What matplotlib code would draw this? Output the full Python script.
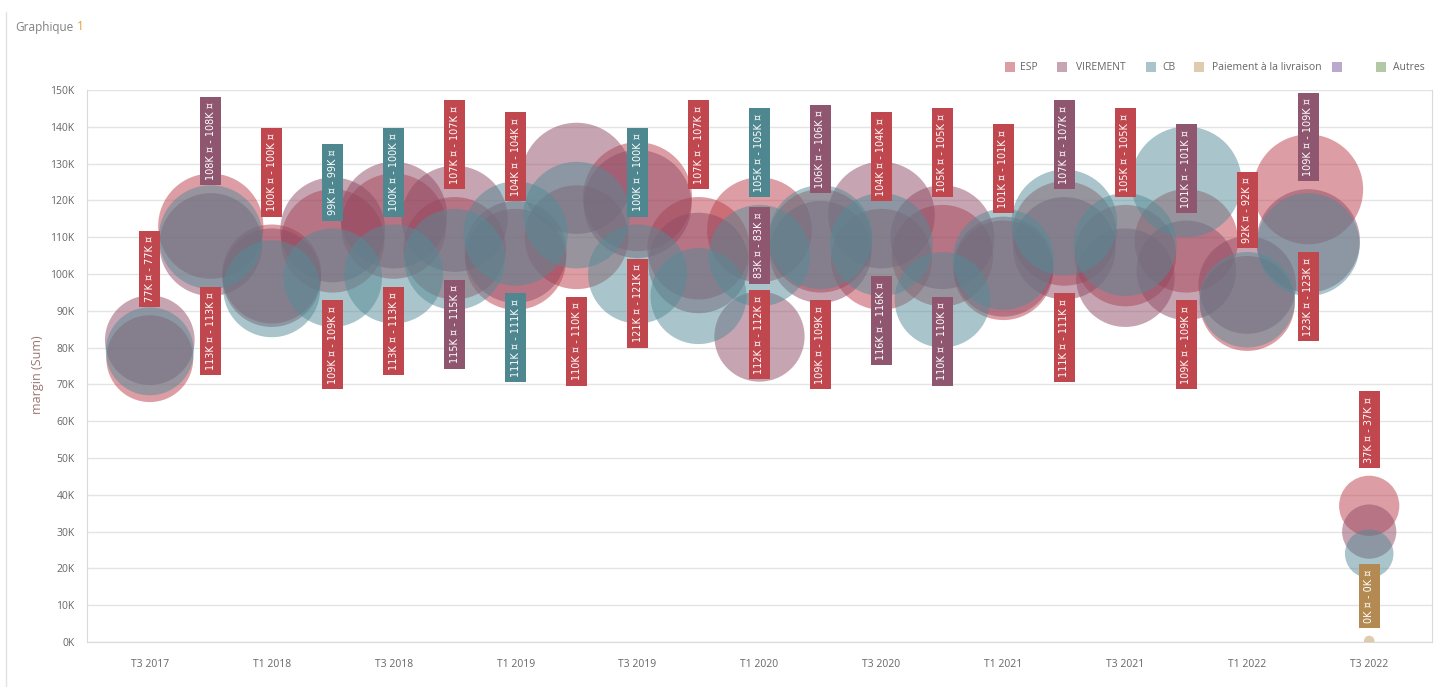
import numpy as np
import matplotlib
matplotlib.use("Agg")
import matplotlib.pyplot as plt
from matplotlib.patches import Rectangle
from matplotlib.lines import Line2D

plt.rcParams['font.family'] = ['Open Sans', 'DejaVu Sans']

# quarters on the x axis
quarters = ['T3 2017', 'T4 2017', 'T1 2018', 'T2 2018', 'T3 2018', 'T4 2018',
            'T1 2019', 'T2 2019', 'T3 2019', 'T4 2019', 'T1 2020', 'T2 2020',
            'T3 2020', 'T4 2020', 'T1 2021', 'T2 2021', 'T3 2021', 'T4 2021',
            'T1 2022', 'T2 2022', 'T3 2022']

# margin (Sum) per payment type, in K
esp = [77, 113, 100, 109, 113, 107, 104, 110, 121, 107, 112,
       109, 104, 105, 101, 111, 105, 109, 92, 123, 37]
virement = [82, 108, 99, 112, 116, 115, 106, 126, 119, 103, 83,
            106, 116, 110, 102, 107, 99, 101, 97, 109, 30]
cb = [79, 110, 96, 99, 100, 104, 111, 116, 100, 94, 105,
      110, 108, 93, 104, 114, 108, 125, 93, 108, 24]
livraison_q = ['T3 2022']
livraison = [0.3]

legend_names = ['ESP', 'VIREMENT', 'CB', 'Paiement à la livraison', '', 'Autres']

# (quarter, series, side) for the value tags that are shown
tags = [
    ('T3 2017', 'ESP', 'top'),
    ('T4 2017', 'VIREMENT', 'top'), ('T4 2017', 'ESP', 'bottom'),
    ('T1 2018', 'ESP', 'top'),
    ('T2 2018', 'CB', 'top'), ('T2 2018', 'ESP', 'bottom'),
    ('T3 2018', 'CB', 'top'), ('T3 2018', 'ESP', 'bottom'),
    ('T4 2018', 'ESP', 'top'), ('T4 2018', 'VIREMENT', 'bottom'),
    ('T1 2019', 'ESP', 'top'), ('T1 2019', 'CB', 'bottom'),
    ('T2 2019', 'ESP', 'bottom'),
    ('T3 2019', 'CB', 'top'), ('T3 2019', 'ESP', 'bottom'),
    ('T4 2019', 'ESP', 'top'),
    ('T1 2020', 'CB', 'top'), ('T1 2020', 'VIREMENT', 'top'), ('T1 2020', 'ESP', 'bottom'),
    ('T2 2020', 'VIREMENT', 'top'), ('T2 2020', 'ESP', 'bottom'),
    ('T3 2020', 'ESP', 'top'), ('T3 2020', 'VIREMENT', 'bottom'),
    ('T4 2020', 'ESP', 'top'), ('T4 2020', 'VIREMENT', 'bottom'),
    ('T1 2021', 'ESP', 'top'),
    ('T2 2021', 'VIREMENT', 'top'), ('T2 2021', 'ESP', 'bottom'),
    ('T3 2021', 'ESP', 'top'),
    ('T4 2021', 'VIREMENT', 'top'), ('T4 2021', 'ESP', 'bottom'),
    ('T1 2022', 'ESP', 'top'),
    ('T2 2022', 'VIREMENT', 'top'), ('T2 2022', 'ESP', 'bottom'),
    ('T3 2022', 'ESP', 'top'), ('T3 2022', 'Paiement à la livraison', 'top'),
]

bubble_col = {'ESP': '#bb3f4a', 'VIREMENT': '#914b65', 'CB': '#558b97',
              'Paiement à la livraison': '#c09a60', '': '#74549a', 'Autres': '#6b9350'}
tag_col = {'ESP': '#c1474f', 'VIREMENT': '#8f5670', 'CB': '#4f8790',
           'Paiement à la livraison': '#b38b52'}

W, H = 1447, 687
fig = plt.figure(figsize=(W / 100, H / 100), dpi=100)
ax = fig.add_axes([87 / W, 45 / H, (1432 - 87) / W, (642 - 90) / H])

xpos = {q: i for i, q in enumerate(quarters)}
series = {
    'ESP': (list(range(len(quarters))), esp),
    'VIREMENT': (list(range(len(quarters))), virement),
    'CB': (list(range(len(quarters))), cb),
    'Paiement à la livraison': ([xpos[q] for q in livraison_q], livraison),
}


def diam_pt(v):
    # bubble area proportional to the value, with a small minimum
    return max(7.13 * np.sqrt(v), 7.5)


for name, (xs, vs) in series.items():
    sizes = [diam_pt(v) ** 2 for v in vs]
    ax.scatter(xs, np.array(vs) * 1000, s=sizes, color=bubble_col[name],
               alpha=0.5, edgecolors='none', zorder=3)

# value tags
for q, name, side in tags:
    xs, vs = series[name]
    i = xs.index(xpos[q])
    v = vs[i]
    txt = f"{v:.0f}K ¤ - {v:.0f}K ¤"
    off = diam_pt(v) / 2 + 5.5 + 3.9
    ax.annotate(txt, xy=(xpos[q], v * 1000),
                xytext=(0, off if side == 'top' else -off),
                textcoords='offset points', rotation=90, ha='center',
                va='bottom' if side == 'top' else 'top',
                color='white', fontsize=7, zorder=5,
                family=['DejaVu Sans'],
                bbox=dict(boxstyle='square,pad=0.55', fc=tag_col[name], ec='none'))

ax.set_xlim(-1.03, 21.03)
ax.set_ylim(0, 150000)
ax.set_yticks(np.arange(0, 150001, 10000))
ax.set_yticklabels([f"{int(t / 1000)}K" for t in np.arange(0, 150001, 10000)])
ax.set_xticks(range(0, len(quarters), 2))
ax.set_xticklabels(quarters[::2])
ax.tick_params(length=0, labelsize=7.5, colors='#666666')
ax.tick_params(axis='x', pad=12)
ax.tick_params(axis='y', pad=9)
ax.grid(axis='y', color='#e4e4e4', lw=1, zorder=0)
ax.set_axisbelow(True)
for s in ['left', 'right', 'bottom']:
    ax.spines[s].set_color('#d9d9d9')
ax.spines['top'].set_visible(False)

fig.text(38 / W, 1 - 375 / H, 'margin (Sum)', rotation=90, ha='center', va='center',
         fontsize=9, color='#9a7670')

# panel title, the number in orange right after the word
t1 = fig.text(15 / W, 1 - 27 / H, 'Graphique', ha='left', va='center', fontsize=8.5,
              color='#808080')
fig.canvas.draw()
bb = t1.get_window_extent()
fig.text((bb.x1 + 4) / W, 1 - 27 / H, '1', ha='left', va='center', fontsize=8.5,
         color='#e0a040')
fig.add_artist(Line2D([6 / W, 6 / W], [0, 1 - 12 / H], transform=fig.transFigure,
                      color='#e2e2e2', lw=1))

# legend
sq_x = [1010, 1062, 1151, 1199, 1337, 1381]
txt_x = [1020, 1076, 1162, 1212, 1350, 1393]
for name, sx, tx in zip(legend_names, sq_x, txt_x):
    fig.add_artist(Rectangle(((sx - 5) / W, 1 - 72 / H), 10 / W, 10 / H,
                             transform=fig.transFigure, color=bubble_col[name],
                             alpha=0.5, lw=0))
    fig.text(tx / W, 1 - 67 / H, name, ha='left', va='center', fontsize=7.5, color='#666666')

fig.savefig('out.png', dpi=100)
